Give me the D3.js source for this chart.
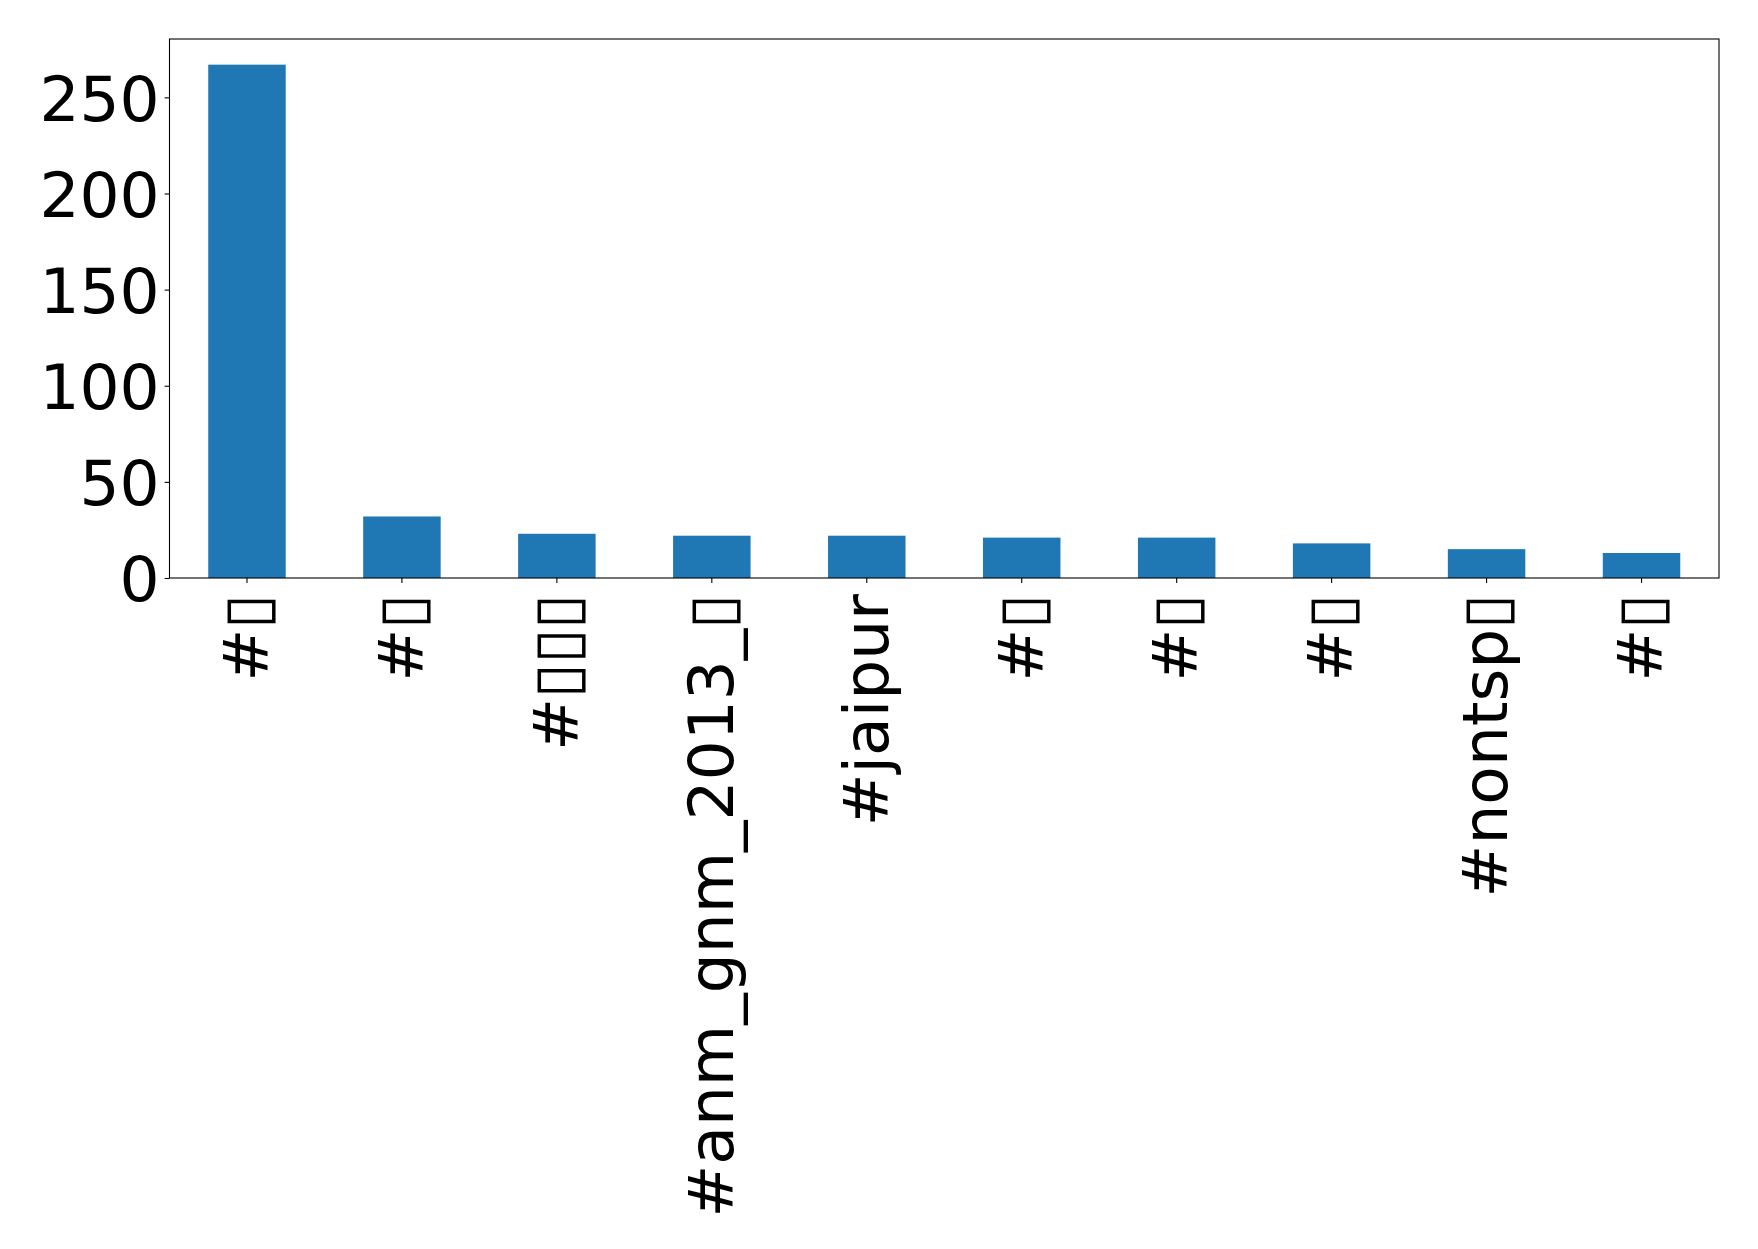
<!DOCTYPE html>
<html>
<head>
<meta charset="utf-8">
<script src="https://cdn.jsdelivr.net/npm/d3@7"></script>
<style>
  html, body { margin: 0; padding: 0; background: #fff; }
  svg { display: block; }
</style>
</head>
<body>
<svg id="chart" width="1758" height="1249"></svg>
<script>
const categories = ["#▯", "#▯", "#▯▯▯", "#anm_gnm_2013_▯", "#jaipur", "#▯", "#▯", "#▯", "#nontsp▯", "#▯"];
const values = [267, 32, 23, 22, 22, 21, 21, 18, 15, 13];
const yTicks = [0, 50, 100, 150, 200, 250];

const W = 1758, H = 1249;
const margin = { left: 169.5, right: W - 1719, top: 39, bottom: H - 578 };
const svg = d3.select("#chart");
const font = "'DejaVu Sans', sans-serif";
const fs = 63;

const idx = categories.map((d, i) => i);
const x = d3.scaleBand().domain(idx).range([margin.left, W - margin.right]).paddingInner(0.5).paddingOuter(0.25);
const y = d3.scaleLinear().domain([0, d3.max(values) * 1.05]).range([H - margin.bottom, margin.top]);

svg.append("g").selectAll("rect").data(values).join("rect")
  .attr("x", (d, i) => x(i))
  .attr("y", d => y(d))
  .attr("width", x.bandwidth())
  .attr("height", d => y(0) - y(d))
  .attr("fill", "#1f77b4");

const tickLen = 4.9, pad = 4.9;

const yAxis = d3.axisLeft(y).tickValues(yTicks).tickSize(tickLen).tickPadding(pad).tickFormat(d3.format("d"));
const gy = svg.append("g").attr("transform", `translate(${margin.left},0)`).call(yAxis);
gy.select(".domain").remove();
gy.selectAll(".tick line").attr("stroke", "#000").attr("stroke-width", 1.1);
gy.selectAll(".tick text").attr("font-family", font).attr("font-size", fs).attr("fill", "#000").attr("dy", "0.36em");

const xAxis = d3.axisBottom(x).tickSize(tickLen).tickPadding(pad).tickFormat(i => categories[i]);
const gx = svg.append("g").attr("transform", `translate(0,${y(0)})`).call(xAxis);
gx.select(".domain").remove();
gx.selectAll(".tick line").attr("stroke", "#000").attr("stroke-width", 1.1);
gx.selectAll(".tick text")
  .attr("font-family", font).attr("font-size", fs).attr("fill", "#000")
  .attr("text-anchor", "end")
  .attr("transform", `translate(0,16) rotate(-90)`)
  .attr("x", 0).attr("y", 0).attr("dy", "0.33em");

svg.append("rect")
  .attr("x", margin.left).attr("y", margin.top)
  .attr("width", W - margin.right - margin.left)
  .attr("height", y(0) - margin.top)
  .attr("fill", "none").attr("stroke", "#000").attr("stroke-width", 1.1);
</script>
</body>
</html>
